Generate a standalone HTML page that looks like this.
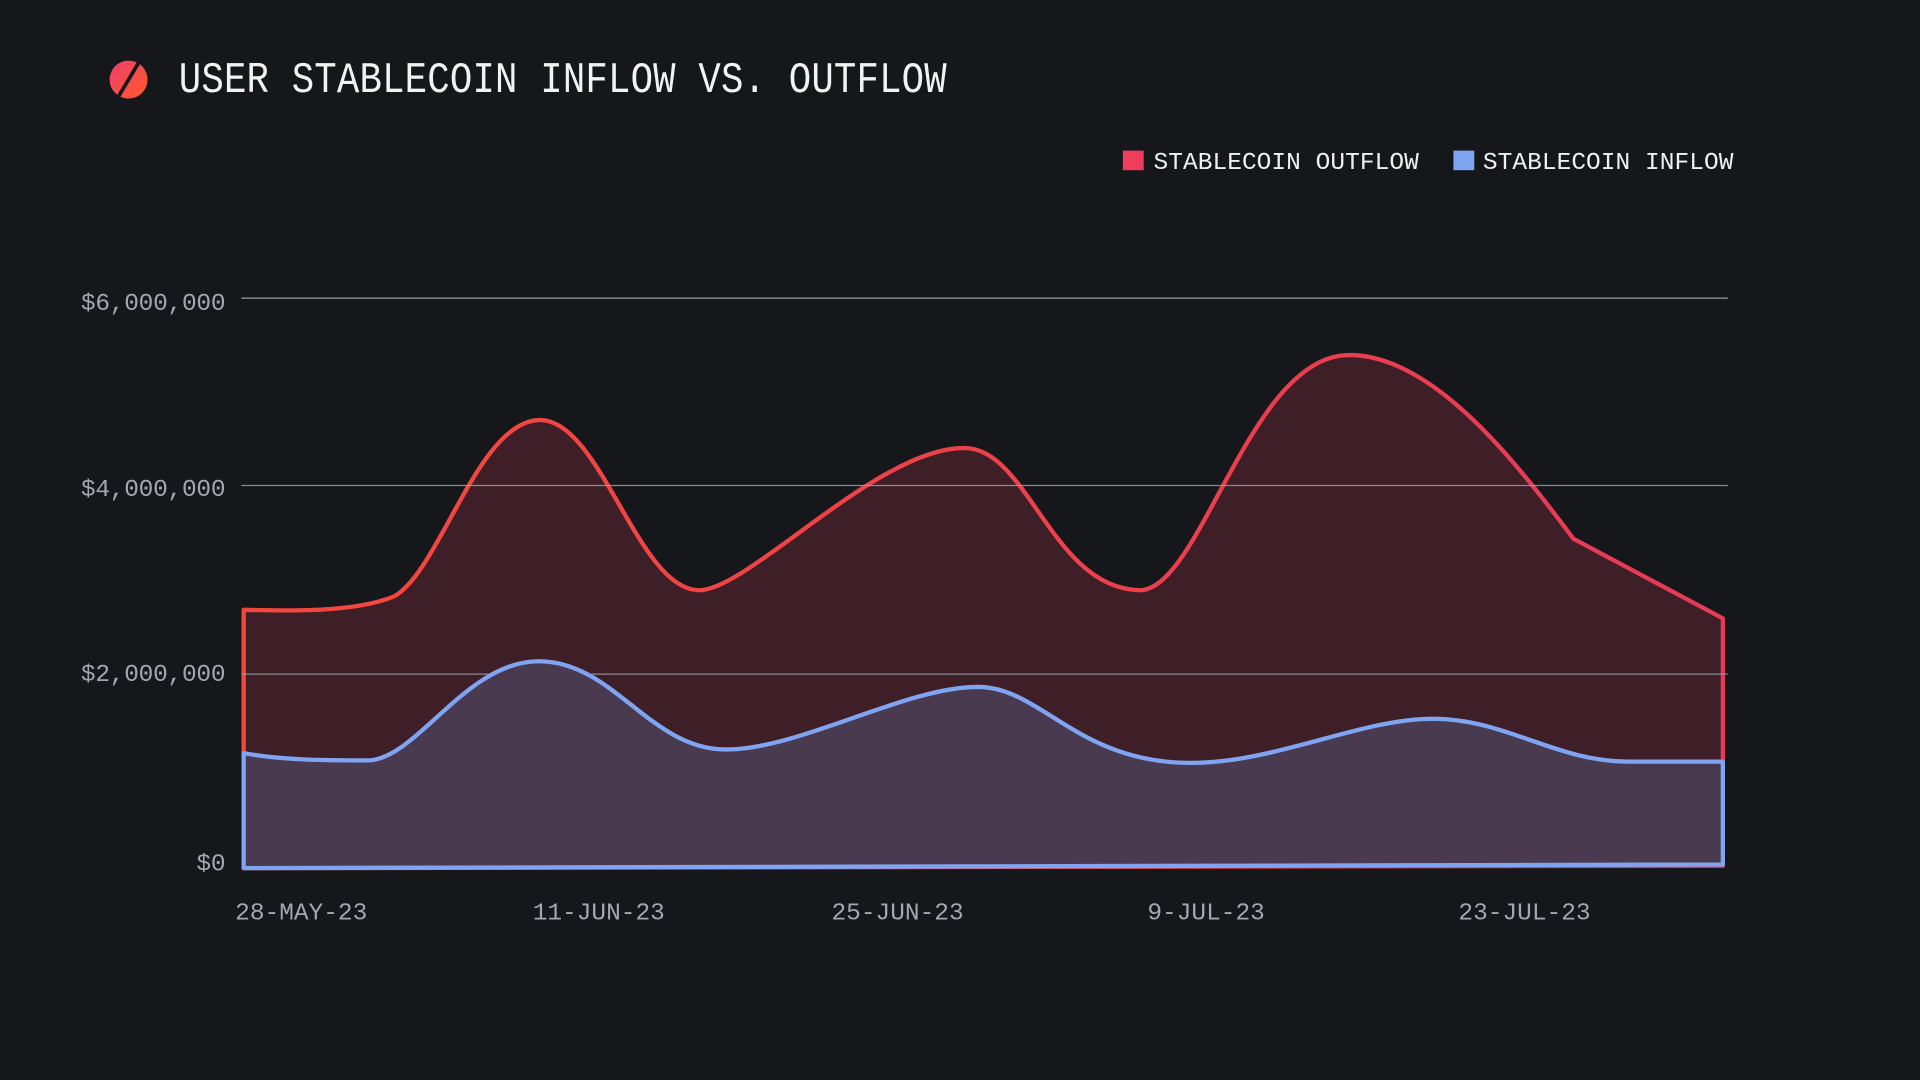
<!DOCTYPE html>
<html><head><meta charset="utf-8"><style>
html,body{margin:0;padding:0;background:#16171b;}
svg{display:block}
</style></head><body>
<svg width="1920" height="1080" viewBox="0 0 1568 882" xmlns="http://www.w3.org/2000/svg">
<defs>
<linearGradient id="ic" x1="0" y1="0" x2="1" y2="1"><stop offset="0" stop-color="#ee3d6e"/><stop offset="1" stop-color="#ff5b2a"/></linearGradient>
<linearGradient id="rs" x1="0" y1="0" x2="1" y2="0"><stop offset="0" stop-color="#f4483c"/><stop offset="1" stop-color="#e63a58"/></linearGradient>
</defs>
<rect width="1568" height="882" fill="#16171b"/>
<circle cx="105" cy="65" r="15.5" fill="url(#ic)"/>
<line x1="114" y1="50" x2="96" y2="80" stroke="#16171b" stroke-width="3"/>
<text x="146" y="75" font-family="Liberation Mono, monospace" font-size="30.5" fill="#f2f2f2" transform="translate(0,-12) scale(1,1.16)" style="letter-spacing:0.15px">USER STABLECOIN INFLOW VS. OUTFLOW</text>
<rect x="917" y="123" width="17" height="16" fill="#ef3e5c"/>
<text x="942" y="138" font-family="Liberation Mono, monospace" font-size="20" fill="#f0f0f0" style="letter-spacing:0.05px">STABLECOIN OUTFLOW</text>
<rect x="1187" y="123" width="17" height="16" fill="#7fa4f2"/>
<text x="1211" y="138" font-family="Liberation Mono, monospace" font-size="20" fill="#f0f0f0" style="letter-spacing:0.05px">STABLECOIN INFLOW</text>
<g font-family="Liberation Mono, monospace" font-size="20" fill="#a3a7b3" text-anchor="end" style="letter-spacing:-0.2px">
<text x="184" y="253">$6,000,000</text>
<text x="184" y="405">$4,000,000</text>
<text x="184" y="556">$2,000,000</text>
<text x="184" y="711">$0</text>
</g>
<g font-family="Liberation Mono, monospace" font-size="20" fill="#a3a7b3" text-anchor="middle" style="letter-spacing:0px">
<text x="246" y="751">28-MAY-23</text>
<text x="489" y="751">11-JUN-23</text>
<text x="733" y="751">25-JUN-23</text>
<text x="985" y="751">9-JUL-23</text>
<text x="1245" y="751">23-JUL-23</text>
</g>
<line x1="197" y1="243.5" x2="1411" y2="243.5" stroke="#9a9ca6" stroke-width="1"/>
<path d="M199,498 C240,499 290,500 322,487 C360,465 390,345 440,343 C490,341 520,480 570,482 C610,484 720,362 790,366 C840,369 860,480 930,482 C980,484 1020,292 1100,290 C1170,288 1240,380 1285,440 L1407,505 L1407,707 L199,709 Z" fill="#3f1f27" stroke="url(#rs)" stroke-width="3.5" stroke-linejoin="round"/>
<line x1="197" y1="396.5" x2="1411" y2="396.5" stroke="#9a9ca6" stroke-width="1" opacity="0.85"/>
<line x1="197" y1="550.5" x2="1411" y2="550.5" stroke="#9a9ca6" stroke-width="1" opacity="0.85"/>
<path d="M199,615 C230,621 270,621 300,621 C340,621 380,540 440,540 C500,540 530,610 590,612 C650,614 740,560 800,561 C850,562 880,622 970,623 C1040,624 1110,587 1170,587 C1230,587 1270,622 1330,622 L1407,622 L1407,706 L199,709 Z" fill="#4a3a50" stroke="#7fa4f2" stroke-width="3.5" stroke-linejoin="round"/>
</svg>
</body></html>
